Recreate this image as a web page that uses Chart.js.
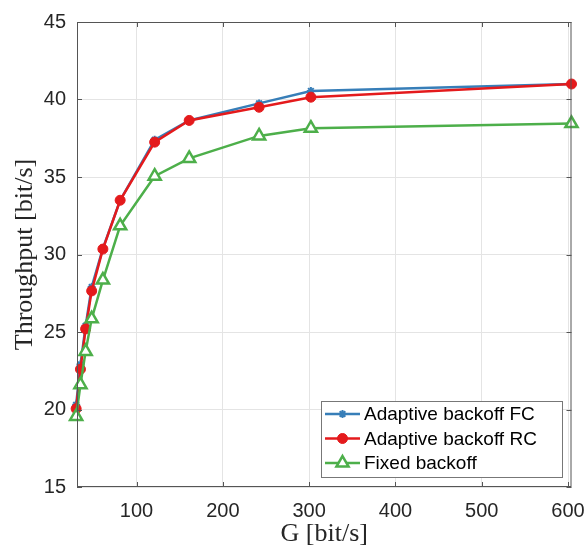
<!DOCTYPE html>
<html>
<head>
<meta charset="utf-8">
<script src="https://cdn.jsdelivr.net/npm/chart.js@4/dist/chart.umd.min.js"></script>
<style>
  html, body { margin: 0; padding: 0; background: #fff; }
  #wrap { width: 584px; height: 545px; }
</style>
</head>
<body>
<div id="wrap"><canvas id="myChart" width="584" height="545"></canvas></div>
<script>
// offered load G and throughput of the three schemes
const G = [30, 35, 41, 48, 61, 81, 121, 161, 242, 302, 604];
const adaptiveFC = [20.3, 22.9, 25.4, 27.9, 30.4, 33.5, 37.4, 38.65, 39.75, 40.55, 41.0];
const adaptiveRC = [20.05, 22.6, 25.2, 27.65, 30.35, 33.5, 37.25, 38.65, 39.5, 40.15, 41.0];
const fixedBackoff = [19.55, 21.6, 23.75, 25.85, 28.35, 31.85, 35.05, 36.2, 37.65, 38.15, 38.45];
const seriesNames = ['Adaptive backoff FC', 'Adaptive backoff RC', 'Fixed backoff'];
const xTicks = [100, 200, 300, 400, 500, 600];
const yTicks = [15, 20, 25, 30, 35, 40, 45];

const blue = '#377eb8', red = '#e41a1c', green = '#4daf4a';
const tickFont = { family: 'Liberation Sans, Arial, sans-serif', size: 20 };
const titleFont = { family: 'Liberation Serif, Times New Roman, serif', size: 26 };

function pts(ys) {
  return G.map((g, i) => ({ x: g, y: ys[i] }));
}

// box round the plot with small inward ticks, like the original axes
const boxPlugin = {
  id: 'box',
  afterDatasetsDraw(chart) {
    const { ctx, chartArea: a, scales } = chart;
    ctx.save();
    ctx.strokeStyle = '#555';
    ctx.lineWidth = 1;
    ctx.strokeRect(a.left + 0.5, a.top + 0.5, a.right - a.left - 1, a.bottom - a.top - 1);
    ctx.beginPath();
    xTicks.forEach(v => {
      const x = Math.round(scales.x.getPixelForValue(v)) + 0.5;
      ctx.moveTo(x, a.bottom); ctx.lineTo(x, a.bottom - 5);
      ctx.moveTo(x, a.top); ctx.lineTo(x, a.top + 5);
    });
    yTicks.forEach(v => {
      const y = Math.round(scales.y.getPixelForValue(v)) + 0.5;
      ctx.moveTo(a.left, y); ctx.lineTo(a.left + 5, y);
      ctx.moveTo(a.right, y); ctx.lineTo(a.right - 5, y);
    });
    ctx.stroke();
    ctx.restore();
  }
};

// legend box in the lower right corner
const legendPlugin = {
  id: 'boxLegend',
  afterDraw(chart) {
    const ctx = chart.ctx;
    const bx = 321, by = 401, bw = 241, bh = 76;
    ctx.save();
    ctx.fillStyle = '#fff';
    ctx.fillRect(bx, by, bw, bh);
    ctx.strokeStyle = '#777';
    ctx.lineWidth = 1;
    ctx.strokeRect(bx + 0.5, by + 0.5, bw, bh);
    chart.data.datasets.forEach((ds, i) => {
      const y = 414 + i * 24.5;
      ctx.strokeStyle = ds.borderColor;
      ctx.lineWidth = ds.borderWidth;
      ctx.beginPath();
      ctx.moveTo(325, y); ctx.lineTo(360, y);
      ctx.stroke();
      ctx.fillStyle = ds.pointBackgroundColor;
      ctx.strokeStyle = ds.borderColor;
      ctx.lineWidth = ds.pointBorderWidth;
      Chart.helpers.drawPoint(ctx, {
        pointStyle: ds.pointStyle, radius: ds.pointRadius,
        rotation: 0, borderWidth: ds.pointBorderWidth
      }, 342.5, y);
      ctx.fillStyle = '#000';
      ctx.font = '19px Liberation Sans, Arial, sans-serif';
      ctx.textBaseline = 'middle';
      ctx.fillText(ds.label, 364, y + 1);
    });
    ctx.restore();
  }
};

new Chart(document.getElementById('myChart'), {
  type: 'line',
  data: {
    datasets: [
      {
        label: seriesNames[0], data: pts(adaptiveFC), order: 3,
        borderColor: blue, borderWidth: 2.5,
        pointStyle: 'star', pointRadius: 4, pointBorderWidth: 2,
        pointBackgroundColor: blue, pointBorderColor: blue
      },
      {
        label: seriesNames[1], data: pts(adaptiveRC), order: 2,
        borderColor: red, borderWidth: 2.5,
        pointStyle: 'circle', pointRadius: 5, pointBorderWidth: 1,
        pointBackgroundColor: red, pointBorderColor: red
      },
      {
        label: seriesNames[2], data: pts(fixedBackoff), order: 1,
        borderColor: green, borderWidth: 2.5,
        pointStyle: 'triangle', pointRadius: 7, pointBorderWidth: 2.5,
        pointBackgroundColor: '#fff', pointBorderColor: green
      }
    ]
  },
  options: {
    responsive: false,
    animation: false,
    clip: false,
    layout: { padding: { left: 0, right: 12.5, top: 22, bottom: 0 } },
    plugins: {
      legend: { display: false },
      tooltip: { enabled: false }
    },
    scales: {
      x: {
        type: 'linear',
        min: 31,
        max: 604,
        afterBuildTicks(scale) {
          scale.ticks = xTicks.map(v => ({ value: v }));
        },
        afterFit(scale) {
          scale.height = 545 - 487;
          scale.paddingLeft = 0;
          scale.paddingRight = 0;
        },
        ticks: { color: '#262626', font: tickFont, padding: 12, maxRotation: 0 },
        grid: { color: '#e4e4e4', drawTicks: false },
        border: { display: false },
        title: {
          display: true, text: 'G [bit/s]', color: '#262626',
          font: titleFont, padding: { top: 0, bottom: -5 }
        }
      },
      y: {
        min: 15,
        max: 45,
        afterBuildTicks(scale) {
          scale.ticks = yTicks.map(v => ({ value: v }));
        },
        afterFit(scale) {
          scale.width = 77;
          scale.paddingTop = 0;
          scale.paddingBottom = 0;
        },
        ticks: { color: '#262626', font: tickFont, padding: 11 },
        grid: { color: '#e4e4e4', drawTicks: false },
        border: { display: false },
        title: {
          display: true, text: 'Throughput [bit/s]', color: '#262626',
          font: titleFont, padding: { top: 10, bottom: 0 }
        }
      }
    }
  },
  plugins: [boxPlugin, legendPlugin]
});
</script>
</body>
</html>
